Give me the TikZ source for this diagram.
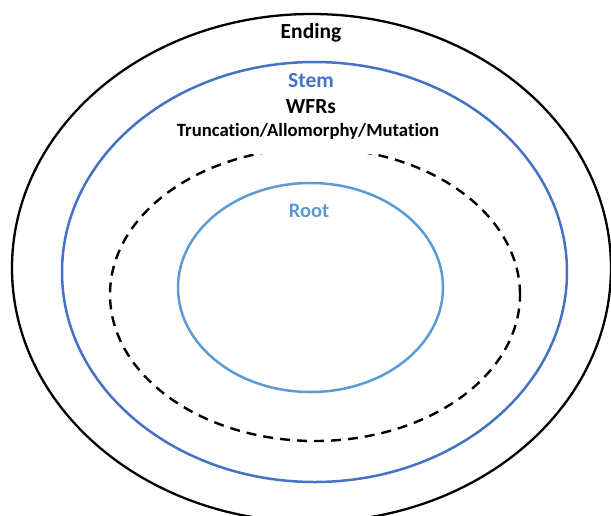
\documentclass[tikz,border=0pt]{standalone}
\usepackage{fontspec}
\setmainfont[Ligatures=NoCommon]{Carlito}
\usetikzlibrary{shapes.geometric}
\definecolor{stemblue}{HTML}{4472C4}
\definecolor{rootblue}{HTML}{5B9BD5}
\tikzset{
  ring/.style={ellipse, inner sep=0pt, outer sep=0pt},
  lbl/.style={inner sep=0pt, font=\bfseries\fontsize{21.5}{24}\selectfont},
  small lbl/.style={inner sep=0pt, font=\bfseries\fontsize{18.7}{22}\selectfont},
}
\begin{document}
\begin{tikzpicture}[x=1pt, y=-1pt]
  \useasboundingbox (0,0) rectangle (611,515);
  \begin{scope}
    \clip (0,0) rectangle (611,515);
    % nested layers of the word
    \node[ring, draw=black, line width=2.3pt, minimum width=599pt, minimum height=508pt] (ending) at (311.5,268) {};
    \node[ring, draw=stemblue, line width=2.5pt, minimum width=505pt, minimum height=420pt] (stem) at (314.5,272) {};
    \node[ring, draw=black, line width=2.4pt, dash pattern=on 10pt off 7pt, minimum width=410pt, minimum height=293pt] (wfr) at (315,294.5) {};
    \node[ring, draw=rootblue, line width=2.5pt, minimum width=265pt, minimum height=209pt] (root) at (310.5,287.5) {};
  \end{scope}
  % white backing for the process labels
  \node[fill=white, inner sep=0pt, minimum width=277pt, minimum height=51pt] (mask) at (308.5,128.5) {};
  \node[lbl] (tEnding) at (311,33) {Ending};
  \node[lbl, text=stemblue] (tStem) at (311,81) {Stem};
  \node[lbl] (tWFR) at (311,107) {WFRs};
  \node[small lbl] (tTrunc) at (308,131) {Truncation/Allomorphy/Mutation};
  \node[lbl, font=\bfseries\fontsize{20.5}{24}\selectfont, text=rootblue] (tRoot) at (309,211) {Root};
\end{tikzpicture}
\end{document}
